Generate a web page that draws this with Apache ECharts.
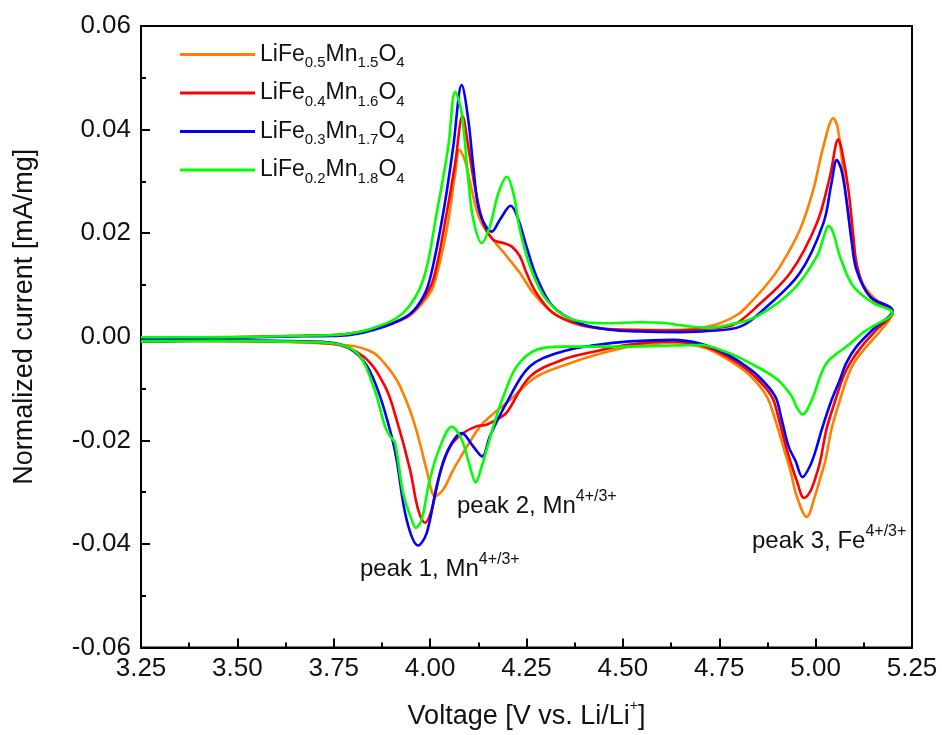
<!DOCTYPE html>
<html>
<head>
<meta charset="utf-8">
<script src="https://cdn.jsdelivr.net/npm/echarts@6/dist/echarts.min.js"></script>
<style>html,body{margin:0;padding:0;background:#fff;}#c{width:942px;height:735px;}</style>
</head>
<body>
<div id="c"></div>
<script>
// ---- data (Voltage [V], normalized current [mA/mg]) ----
const seriesNames = ['LiFe0.5Mn1.5O4', 'LiFe0.4Mn1.6O4', 'LiFe0.3Mn1.7O4', 'LiFe0.2Mn1.8O4'];
const feSub = ['0.5', '0.4', '0.3', '0.2'];
const mnSub = ['1.5', '1.6', '1.7', '1.8'];
const seriesColors = ['#ff7f00', '#ff0000', '#0000ff', '#00ff00'];

const orangeAnodic = [[3.25,-0.0003],[3.40,-0.0002],[3.55,0.0000],[3.67,0.0002],[3.766,0.0004],[3.853,0.0015],[3.939,0.0037],[3.98,0.0065],[4.008,0.0097],[4.043,0.0206],[4.065,0.0316],[4.076,0.0361],[4.090,0.0341],[4.108,0.0284],[4.129,0.0226],[4.164,0.0187],[4.199,0.0155],[4.233,0.0123],[4.268,0.0084],[4.319,0.0046],[4.388,0.0023],[4.46,0.0015],[4.544,0.0013],[4.63,0.0013],[4.70,0.0017],[4.752,0.0026],[4.80,0.0044],[4.830,0.0065],[4.870,0.0098],[4.908,0.0136],[4.959,0.0206],[4.994,0.0284],[5.020,0.0367],[5.046,0.0422],[5.057,0.0405],[5.072,0.0316],[5.085,0.0232],[5.098,0.0168],[5.115,0.0116],[5.132,0.0091],[5.176,0.0058],[5.200,0.0047]];
const orangeCathodic = [[5.200,0.0047],[5.171,0.0014],[5.132,-0.0019],[5.100,-0.005],[5.080,-0.0083],[5.060,-0.013],[5.041,-0.0179],[5.025,-0.024],[5.011,-0.0276],[4.998,-0.0308],[4.977,-0.0348],[4.951,-0.0308],[4.935,-0.026],[4.916,-0.0212],[4.895,-0.016],[4.873,-0.0115],[4.830,-0.0075],[4.787,-0.0051],[4.740,-0.003],[4.700,-0.0019],[4.630,-0.0012],[4.518,-0.0019],[4.440,-0.0033],[4.363,-0.0051],[4.276,-0.0077],[4.207,-0.0122],[4.170,-0.0145],[4.138,-0.0166],[4.112,-0.0192],[4.086,-0.0224],[4.060,-0.0257],[4.034,-0.0295],[4.013,-0.0308],[3.991,-0.0257],[3.975,-0.021],[3.956,-0.016],[3.935,-0.0118],[3.913,-0.0083],[3.880,-0.005],[3.853,-0.0031],[3.800,-0.0018],[3.70,-0.0012],[3.55,-0.0009],[3.40,-0.0008],[3.25,-0.0009]];

const redAnodic = [[3.25,-0.0003],[3.40,-0.0002],[3.55,0.0000],[3.67,0.0002],[3.766,0.0004],[3.853,0.0015],[3.939,0.0039],[3.975,0.0065],[4.008,0.011],[4.043,0.0239],[4.065,0.0335],[4.084,0.0426],[4.099,0.0367],[4.116,0.029],[4.138,0.0219],[4.164,0.0187],[4.190,0.0181],[4.212,0.0174],[4.233,0.0155],[4.250,0.0123],[4.276,0.0084],[4.319,0.0046],[4.388,0.0023],[4.46,0.0015],[4.544,0.0013],[4.65,0.0012],[4.72,0.0016],[4.787,0.0023],[4.847,0.0058],[4.934,0.0123],[5.003,0.0219],[5.037,0.0309],[5.059,0.0381],[5.068,0.0360],[5.085,0.0284],[5.098,0.0193],[5.106,0.0142],[5.124,0.0097],[5.150,0.0071],[5.200,0.0047]];
const redCathodic = [[5.200,0.0047],[5.160,0.0015],[5.119,-0.0019],[5.090,-0.005],[5.072,-0.0077],[5.050,-0.0125],[5.028,-0.0179],[5.012,-0.024],[4.998,-0.0276],[4.985,-0.0300],[4.970,-0.0311],[4.952,-0.028],[4.923,-0.0212],[4.905,-0.016],[4.886,-0.0115],[4.840,-0.0075],[4.799,-0.0051],[4.750,-0.003],[4.700,-0.0016],[4.630,-0.0009],[4.518,-0.0015],[4.430,-0.0028],[4.345,-0.0044],[4.259,-0.0077],[4.198,-0.0147],[4.172,-0.016],[4.146,-0.017],[4.120,-0.0173],[4.086,-0.0186],[4.052,-0.0212],[4.026,-0.0263],[4.004,-0.0334],[3.987,-0.0359],[3.969,-0.0334],[3.948,-0.0257],[3.913,-0.016],[3.883,-0.0096],[3.827,-0.0038],[3.740,-0.0013],[3.60,-0.0009],[3.45,-0.0008],[3.25,-0.0009]];

const blueAnodic = [[3.25,-0.0004],[3.40,-0.0003],[3.55,-0.0001],[3.67,0.0001],[3.766,0.0002],[3.853,0.0013],[3.939,0.0039],[3.975,0.0068],[3.999,0.011],[4.034,0.0239],[4.060,0.0367],[4.082,0.0486],[4.099,0.0419],[4.112,0.0328],[4.129,0.0239],[4.160,0.0203],[4.181,0.0226],[4.209,0.0253],[4.229,0.0226],[4.250,0.0174],[4.276,0.0116],[4.319,0.0058],[4.388,0.0026],[4.46,0.0014],[4.544,0.001],[4.65,0.0009],[4.72,0.0011],[4.806,0.002],[4.873,0.0058],[4.959,0.0123],[5.020,0.0219],[5.041,0.0296],[5.055,0.0341],[5.067,0.0322],[5.080,0.0264],[5.093,0.0187],[5.106,0.0129],[5.141,0.0078],[5.200,0.005]];
const blueCathodic = [[5.200,0.005],[5.150,0.0015],[5.106,-0.0019],[5.080,-0.005],[5.063,-0.0083],[5.040,-0.0125],[5.016,-0.0179],[5.000,-0.022],[4.985,-0.025],[4.966,-0.0271],[4.948,-0.024],[4.930,-0.0212],[4.912,-0.016],[4.895,-0.0115],[4.850,-0.0075],[4.808,-0.0051],[4.760,-0.003],[4.700,-0.0013],[4.630,-0.0006],[4.518,-0.0009],[4.430,-0.0016],[4.345,-0.0028],[4.259,-0.0057],[4.198,-0.0128],[4.155,-0.0192],[4.135,-0.0231],[4.112,-0.0212],[4.082,-0.0186],[4.043,-0.0224],[4.017,-0.0289],[3.991,-0.0379],[3.969,-0.0403],[3.939,-0.0353],[3.913,-0.0237],[3.900,-0.0192],[3.870,-0.0115],[3.835,-0.0055],[3.790,-0.0022],[3.740,-0.0011],[3.60,-0.0008],[3.45,-0.0007],[3.25,-0.0009]];

const greenAnodic = [[3.25,-0.0001],[3.40,-0.0001],[3.55,0.0000],[3.67,0.0002],[3.766,0.0004],[3.853,0.0017],[3.930,0.0046],[3.982,0.011],[4.017,0.0239],[4.047,0.0367],[4.065,0.0473],[4.082,0.0431],[4.099,0.0303],[4.112,0.0226],[4.134,0.0181],[4.155,0.0213],[4.177,0.0277],[4.199,0.0309],[4.216,0.0277],[4.233,0.0206],[4.259,0.0136],[4.302,0.0071],[4.371,0.0033],[4.46,0.0026],[4.544,0.0028],[4.60,0.0027],[4.66,0.0021],[4.72,0.0017],[4.78,0.0024],[4.847,0.0039],[4.942,0.0091],[5.003,0.0155],[5.024,0.020],[5.033,0.0214],[5.046,0.020],[5.063,0.0155],[5.098,0.0097],[5.150,0.0065],[5.200,0.0047]];
const greenCathodic = [[5.200,0.0047],[5.130,0.0012],[5.080,-0.0019],[5.050,-0.0035],[5.028,-0.0051],[5.010,-0.008],[4.994,-0.0115],[4.966,-0.015],[4.950,-0.0135],[4.938,-0.0115],[4.900,-0.0082],[4.830,-0.0051],[4.770,-0.003],[4.700,-0.0016],[4.630,-0.0017],[4.518,-0.0019],[4.430,-0.0019],[4.345,-0.0019],[4.276,-0.0025],[4.225,-0.0057],[4.190,-0.0115],[4.164,-0.0173],[4.134,-0.025],[4.118,-0.0281],[4.103,-0.025],[4.082,-0.0199],[4.056,-0.0174],[4.026,-0.0212],[3.999,-0.0276],[3.978,-0.0353],[3.963,-0.0369],[3.952,-0.0353],[3.930,-0.0302],[3.909,-0.0205],[3.896,-0.0192],[3.883,-0.0173],[3.853,-0.0096],[3.810,-0.0031],[3.740,-0.0012],[3.60,-0.0009],[3.45,-0.0008],[3.25,-0.0009]];

const anodic = [orangeAnodic, redAnodic, blueAnodic, greenAnodic];
const cathodic = [orangeCathodic, redCathodic, blueCathodic, greenCathodic];

const annotations = [
  {main: 'peak 1, Mn', sup: '4+/3+', x: 360, y: 552},
  {main: 'peak 2, Mn', sup: '4+/3+', x: 457, y: 489},
  {main: 'peak 3, Fe', sup: '4+/3+', x: 752, y: 524}
];

const FONT = '"Liberation Sans", Arial, Helvetica, sans-serif';

const chart = echarts.init(document.getElementById('c'), null, {renderer: 'canvas'});

const series = seriesNames.map((name, i) => ({
  name: name,
  type: 'line',
  data: anodic[i].concat(cathodic[i].slice(1)),
  symbol: 'none',
  smooth: 0.35,
  lineStyle: {color: seriesColors[i], width: 2.6},
  itemStyle: {color: seriesColors[i]},
  z: 2 + i
}));

chart.setOption({
  backgroundColor: '#fff',
  animation: false,
  textStyle: {fontFamily: FONT},
  grid: {left: 141, right: 30, top: 26, bottom: 87, show: true, borderColor: '#000', borderWidth: 2, backgroundColor: 'transparent'},
  legend: {
    orient: 'vertical',
    left: 180,
    top: 43,
    padding: 0,
    itemGap: 11,
    itemWidth: 75,
    itemHeight: 3,
    icon: 'rect',
    data: seriesNames,
    formatter: function (name) {
      const i = seriesNames.indexOf(name);
      return '{m|LiFe}{s|' + feSub[i] + '}{m|Mn}{s|' + mnSub[i] + '}{m|O}{s|4}';
    },
    textStyle: {
      fontFamily: FONT, fontSize: 23, color: '#111',
      rich: {
        m: {fontFamily: FONT, fontSize: 23, lineHeight: 32, color: '#111', verticalAlign: 'middle'},
        s: {fontFamily: FONT, fontSize: 15, lineHeight: 15, color: '#111', verticalAlign: 'bottom'}
      }
    }
  },
  xAxis: {
    type: 'value', min: 3.25, max: 5.25, interval: 0.25,
    name: '{n|Voltage [V vs. Li/Li}{p|+}{n|]}',
    nameLocation: 'middle', nameGap: 52,
    nameTextStyle: {
      fontFamily: FONT, fontSize: 27, color: '#111',
      rich: {
        n: {fontFamily: FONT, fontSize: 27, lineHeight: 34, color: '#111', verticalAlign: 'middle'},
        p: {fontFamily: FONT, fontSize: 14, lineHeight: 14, color: '#111', verticalAlign: 'top'}
      }
    },
    axisLine: {show: true, onZero: false, lineStyle: {color: '#000', width: 2}},
    axisTick: {show: true, inside: true, length: 9, lineStyle: {color: '#000', width: 2}},
    minorTick: {show: true, splitNumber: 2, length: 5, lineStyle: {color: '#000', width: 2}},
    axisLabel: {fontFamily: FONT, fontSize: 26, color: '#111', margin: 8, formatter: v => v.toFixed(2)},
    splitLine: {show: false}
  },
  yAxis: {
    type: 'value', min: -0.06, max: 0.06, interval: 0.02,
    name: 'Normalized current [mA/mg]',
    nameLocation: 'middle', nameGap: 103,
    nameTextStyle: {fontFamily: FONT, fontSize: 27, color: '#111', padding: [0, 0, 0, 40]},
    axisLine: {show: true, onZero: false, lineStyle: {color: '#000', width: 2}},
    axisTick: {show: true, inside: true, length: 9, lineStyle: {color: '#000', width: 2}},
    minorTick: {show: true, splitNumber: 2, length: 5, lineStyle: {color: '#000', width: 2}},
    axisLabel: {fontFamily: FONT, fontSize: 26, color: '#111', margin: 10, formatter: v => (Math.abs(v) < 1e-9 ? 0 : v).toFixed(2)},
    splitLine: {show: false}
  },
  graphic: annotations.map(a => ({
    type: 'text', left: a.x, top: a.y, z: 100,
    style: {
      text: '{a|' + a.main + '}{b|' + a.sup + '}',
      fill: '#111',
      rich: {
        a: {fontFamily: FONT, fontSize: 24, lineHeight: 34, fill: '#111', verticalAlign: 'middle'},
        b: {fontFamily: FONT, fontSize: 16, lineHeight: 16, fill: '#111', verticalAlign: 'top'}
      }
    }
  })),
  series: series
});
</script>
</body>
</html>
